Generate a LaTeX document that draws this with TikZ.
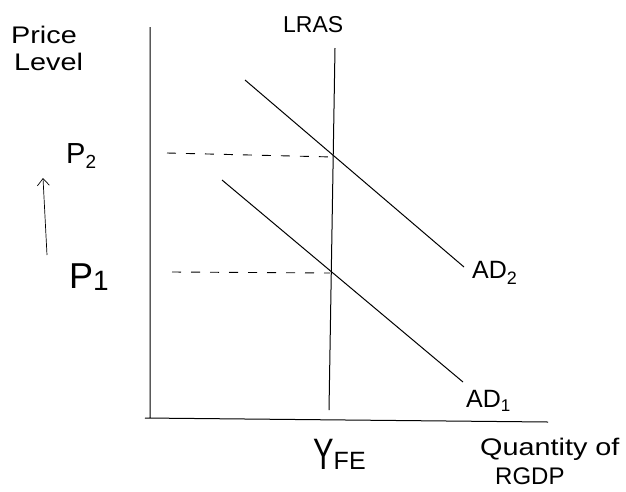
\documentclass[tikz,border=0pt]{standalone}
\usepackage{fontspec}
\setmainfont{Liberation Sans}
\usetikzlibrary{arrows.meta}
\newcommand{\lowsub}[2]{\raisebox{-#1}{#2}}
\newcommand{\fs}[1]{\fontsize{#1}{#1}\selectfont}
\begin{document}
\begin{tikzpicture}[x=1pt,y=-1pt,
  ln/.style={line width=1pt,black},
  dsh/.style={line width=0.9pt,dash pattern=on 9pt off 10pt},
  lbl/.style={inner sep=0pt,anchor=base west}]
\useasboundingbox (0,0) rectangle (626,491);
% axes
\coordinate (ytop) at (150,27);
\coordinate (org) at (145,418);
\coordinate (xend) at (548,422);
\draw[ln] (ytop) -- (150,418) -- (org) -- (xend);
% LRAS
\coordinate (lt) at (335,48);
\coordinate (lb) at (329,410);
\draw[ln] (lt) -- (lb);
\node[lbl] (lras) at (283,32) {\fs{23}LRAS};
% AD curves
\coordinate (a2s) at (245,80);
\coordinate (a2e) at (464,267);
\coordinate (a1s) at (222,180);
\coordinate (a1e) at (463,382);
\draw[ln] (a2s) -- (a2e);
\draw[ln] (a1s) -- (a1e);
\node[lbl] (ad2) at (472,278) {\fs{25}AD\lowsub{6pt}{\fs{18}2}};
\node[lbl] (ad1) at (466,407) {\fs{25}AD\lowsub{4pt}{\fs{17}1}};
% dashed price lines
\coordinate (p2s) at (167,153);
\coordinate (p2e) at (333,157);
\coordinate (p1s) at (172,272);
\coordinate (p1e) at (330,273);
\draw[dsh] (p2s) -- (p2e);
\draw[dsh] (p1s) -- (p1e);
\node[lbl] (p2) at (66,163) {\fs{29}P\lowsub{5pt}{\fs{19}2}};
\node[lbl] (p1) at (69,288) {\fs{36}P\lowsub{2pt}{\fs{28}1}};
% arrow
\coordinate (ar1) at (47,255);
\coordinate (ar2) at (43,178);
\draw[line width=0.7pt,-{Straight Barb[length=7pt,width=12pt]}] (ar1) -- (ar2);
% axis labels
\node[lbl] (pl1) at (11,43) {\fs{24}\scalebox{1.2}[1]{Price}};
\node[lbl] (pl2) at (14,70) {\fs{24}\scalebox{1.2}[1]{Level}};
\node[lbl] (yfe) at (313,469) {\fs{44}\scalebox{0.7}[1]{Y}\fs{25}FE};
\node[lbl] (q1) at (480,455) {\fs{24}\scalebox{1.2}[1]{Quantity of}};
\node[lbl] (q2) at (495,484) {\fs{24}RGDP};
\end{tikzpicture}
\end{document}
